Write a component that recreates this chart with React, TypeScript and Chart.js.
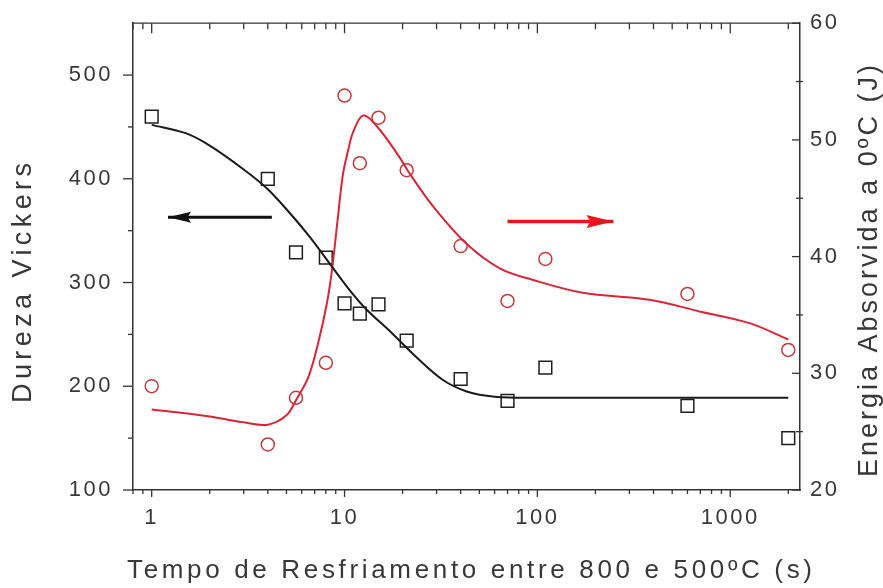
import React, { useEffect, useRef } from "react";
import { Chart, registerables } from "chart.js";

Chart.register(...registerables);

// ---- Data ----
const hardnessTime = [1, 4, 5.6, 8, 10, 12, 15, 21, 40, 70, 110, 600, 2000];
const hardnessHV = [460, 400, 329, 324, 280, 270, 279, 244, 207, 186, 218, 181, 150];

const energyTime = [1, 4, 5.6, 8, 10, 12, 15, 21, 40, 70, 110, 600, 2000];
const energyJ = [28.9, 23.9, 27.9, 30.9, 53.8, 48.0, 51.9, 47.4, 40.9, 36.2, 39.8, 36.8, 32.0];

const hardnessFitTime = [1, 1.5, 2, 3, 4, 5.2, 6.6, 8.4, 10.6, 13, 17.2, 23.6, 32.4, 43, 60, 100, 2000];
const hardnessFitHV = [452, 444, 432, 409, 390, 367, 344, 318, 293, 274, 253, 228, 206, 195, 190, 189, 189];

const energyFitTime = [1, 2, 3, 4, 5, 5.6, 6.5, 7.3, 8.1, 8.6, 9.2, 9.8, 10.4, 11.1, 12.5, 15, 19.3, 21.8, 28.8, 42.9, 63.8, 95, 172, 382, 693, 1259, 2000];
const energyFitJ = [26.9, 26.3, 25.8, 25.6, 26.4, 27.7, 29.7, 32.6, 36.0, 38.8, 43.1, 47.0, 49.0, 50.7, 52.1, 51.0, 48.5, 47.1, 44.3, 41.1, 39.0, 38.0, 36.9, 36.3, 35.3, 34.3, 32.9];

const leftArrowTime = [4.2, 1.215];
const leftArrowHV = [363, 363];
const rightArrowTime = [70, 248];
const rightArrowJ = [43, 43];

const xTickLabels = [1, 10, 100, 1000];
const leftTickLabels = [100, 200, 300, 400, 500];
const rightTickLabels = [20, 30, 40, 50, 60];
const leftMinorTicks = [150, 250, 350, 450];
const rightMinorTicks = [25, 35, 45, 55];

const xTitle = "Tempo de Resfriamento entre 800 e 500ºC (s)";
const leftTitle = "Dureza Vickers";
const rightTitle = "Energia Absorvida a 0ºC (J)";

const X_MIN = 0.8;
const X_MAX = 2300;

const toPts = (xs: number[], ys: number[]) => xs.map((x, i) => ({ x, y: ys[i] }));

const FONT = '"Liberation Sans", Arial, sans-serif';
const TEXT_COLOR = "#383838";
const AXIS_COLOR = "#333";

const spacingPlugin = {
  id: "spacing",
  beforeDraw(chart: any) {
    (chart.ctx as any).letterSpacing = "2.5px";
  },
};

const frameTicksPlugin = {
  id: "frameTicks",
  afterDraw(chart: any) {
    const { ctx, chartArea } = chart;
    const { left, right, top, bottom } = chartArea;
    const xs = chart.scales.x;
    const yl = chart.scales.y;
    const yr = chart.scales.y1;
    ctx.save();
    ctx.strokeStyle = AXIS_COLOR;
    ctx.lineWidth = 1.3;
    ctx.beginPath();
    ctx.moveTo(left, top);
    ctx.lineTo(right, top);
    ctx.stroke();
    for (const d of [0.1, 1, 10, 100, 1000]) {
      for (let m = 1; m <= 9; m++) {
        const v = m * d;
        if (v < X_MIN - 1e-9 || v > X_MAX) continue;
        const px = xs.getPixelForValue(v);
        const major = m === 1;
        ctx.beginPath();
        ctx.moveTo(px, bottom);
        ctx.lineTo(px, bottom + (major ? 7 : 4));
        ctx.moveTo(px, top);
        ctx.lineTo(px, top + (major ? 10 : 6));
        ctx.stroke();
      }
    }
    for (const v of leftTickLabels) {
      const py = yl.getPixelForValue(v);
      ctx.beginPath();
      ctx.moveTo(left - 10, py);
      ctx.lineTo(left, py);
      ctx.stroke();
    }
    for (const v of leftMinorTicks) {
      const py = yl.getPixelForValue(v);
      ctx.beginPath();
      ctx.moveTo(left - 5, py);
      ctx.lineTo(left, py);
      ctx.stroke();
    }
    for (const v of rightTickLabels) {
      const py = yr.getPixelForValue(v);
      ctx.beginPath();
      ctx.moveTo(right - 8, py);
      ctx.lineTo(right, py);
      ctx.stroke();
    }
    for (const v of rightMinorTicks) {
      const py = yr.getPixelForValue(v);
      ctx.beginPath();
      ctx.moveTo(right - 4, py);
      ctx.lineTo(right + 3, py);
      ctx.stroke();
    }
    ctx.restore();
  },
};

const arrowHeadPlugin = {
  id: "arrowHeads",
  afterDatasetsDraw(chart: any) {
    const { ctx } = chart;
    chart.data.datasets.forEach((ds: any, i: number) => {
      if (!ds.arrowHead) return;
      const meta = chart.getDatasetMeta(i);
      const pts = meta.data;
      if (pts.length < 2) return;
      const a = pts[pts.length - 2];
      const b = pts[pts.length - 1];
      const ang = Math.atan2(b.y - a.y, b.x - a.x);
      const L = ds.arrowHead.length;
      const W = ds.arrowHead.halfWidth;
      ctx.save();
      ctx.translate(b.x, b.y);
      ctx.rotate(ang);
      ctx.beginPath();
      ctx.moveTo(0, 0);
      ctx.lineTo(-L, -W);
      ctx.lineTo(-L * 0.85, 0);
      ctx.lineTo(-L, W);
      ctx.closePath();
      ctx.fillStyle = ds.borderColor;
      ctx.fill();
      ctx.restore();
    });
  },
};

const drawSpacedText = (
  ctx: CanvasRenderingContext2D,
  text: string,
  x: number,
  y: number,
  rotation: number,
  targetWidth: number,
  font: string
) => {
  ctx.save();
  ctx.font = font;
  (ctx as any).letterSpacing = "0px";
  const w0 = ctx.measureText(text).width;
  const n = Array.from(text).length;
  const ls = (targetWidth - w0) / (n - 1);
  (ctx as any).letterSpacing = `${ls}px`;
  ctx.translate(x, y);
  ctx.rotate(rotation);
  ctx.textAlign = "left";
  ctx.textBaseline = "alphabetic";
  ctx.fillStyle = TEXT_COLOR;
  ctx.fillText(text, 0, 0);
  ctx.restore();
};

const titlesPlugin = {
  id: "titles",
  afterDraw(chart: any) {
    const ctx = chart.ctx as CanvasRenderingContext2D;
    drawSpacedText(ctx, xTitle, 127, 578, 0, 685, `26px ${FONT}`);
    drawSpacedText(ctx, leftTitle, 31, 403, -Math.PI / 2, 240, `27px ${FONT}`);
    drawSpacedText(ctx, rightTitle, 877, 477, -Math.PI / 2, 412, `27px ${FONT}`);
  },
};

export default function App() {
  const canvasRef = useRef<HTMLCanvasElement | null>(null);

  useEffect(() => {
    document.body.style.margin = "0";
    const canvas = canvasRef.current;
    if (!canvas) return;

    const tickFont = { family: FONT, size: 22 };

    const chart = new Chart(canvas, {
      type: "scatter",
      data: {
        datasets: [
          {
            label: "Ajuste dureza",
            data: toPts(hardnessFitTime, hardnessFitHV),
            yAxisID: "y",
            showLine: true,
            borderColor: "#1a1a1a",
            borderWidth: 2,
            pointRadius: 0,
            tension: 0.35,
          } as any,
          {
            label: "Ajuste energia",
            data: toPts(energyFitTime, energyFitJ),
            yAxisID: "y1",
            showLine: true,
            borderColor: "#d7263a",
            borderWidth: 2,
            pointRadius: 0,
            tension: 0.35,
          } as any,
          {
            label: "Dureza Vickers",
            data: toPts(hardnessTime, hardnessHV),
            yAxisID: "y",
            pointStyle: "rect",
            pointRadius: 9,
            borderColor: "#1e1e1e",
            borderWidth: 1.5,
            backgroundColor: "rgba(0,0,0,0)",
          },
          {
            label: "Energia absorvida",
            data: toPts(energyTime, energyJ),
            yAxisID: "y1",
            pointStyle: "circle",
            pointRadius: 6.5,
            borderColor: "#c23a3e",
            borderWidth: 1.5,
            backgroundColor: "rgba(0,0,0,0)",
          },
          {
            label: "seta dureza",
            data: toPts(leftArrowTime, leftArrowHV),
            yAxisID: "y",
            showLine: true,
            borderColor: "#111111",
            borderWidth: 3,
            pointRadius: 0,
            arrowHead: { length: 23, halfWidth: 5.5 },
          } as any,
          {
            label: "seta energia",
            data: toPts(rightArrowTime, rightArrowJ),
            yAxisID: "y1",
            showLine: true,
            borderColor: "#e8171b",
            borderWidth: 3.5,
            pointRadius: 0,
            arrowHead: { length: 27, halfWidth: 6.5 },
          } as any,
        ],
      },
      options: {
        responsive: false,
        animation: false,
        devicePixelRatio: 1,
        layout: { padding: { top: 23, left: 0, right: 0, bottom: 0 } },
        plugins: {
          legend: { display: false },
          tooltip: { enabled: false },
          title: { display: false },
        },
        scales: {
          x: {
            type: "logarithmic",
            position: "bottom",
            min: X_MIN,
            max: X_MAX,
            grid: { display: false, drawTicks: true, tickLength: 8 },
            border: { display: true, color: AXIS_COLOR, width: 1.5 },
            ticks: {
              font: tickFont,
              color: TEXT_COLOR,
              padding: 7,
              autoSkip: false,
              maxRotation: 0,
              callback: (v: any) => String(v),
            },
            afterBuildTicks: (s: any) => {
              s.ticks = xTickLabels.map((v) => ({ value: v }));
            },
            afterFit: (s: any) => {
              s.height = 98;
            },
          },
          y: {
            type: "linear",
            position: "left",
            min: 100,
            max: 550,
            grid: { display: false, drawTicks: true, tickLength: 10 },
            border: { display: true, color: AXIS_COLOR, width: 1.5 },
            ticks: {
              font: tickFont,
              color: TEXT_COLOR,
              padding: 10,
              callback: (v: any) => String(v),
            },
            afterBuildTicks: (s: any) => {
              s.ticks = leftTickLabels.map((v) => ({ value: v }));
            },
            afterFit: (s: any) => {
              s.width = 133;
            },
          },
          y1: {
            type: "linear",
            position: "right",
            min: 20,
            max: 60,
            grid: { display: false, drawTicks: true, tickLength: 4, drawOnChartArea: false },
            border: { display: true, color: AXIS_COLOR, width: 1.5 },
            ticks: {
              font: tickFont,
              color: TEXT_COLOR,
              padding: 6,
              callback: (v: any) => String(v),
            },
            afterBuildTicks: (s: any) => {
              s.ticks = rightTickLabels.map((v) => ({ value: v }));
            },
            afterFit: (s: any) => {
              s.width = 83;
            },
          },
        },
      } as any,
      plugins: [spacingPlugin, frameTicksPlugin, arrowHeadPlugin, titlesPlugin],
    });

    return () => {
      chart.destroy();
    };
  }, []);

  return (
    <div style={{ position: "fixed", left: 0, top: 0, width: 883, height: 588, background: "#fff" }}>
      <canvas ref={canvasRef} width={883} height={588} />
    </div>
  );
}
